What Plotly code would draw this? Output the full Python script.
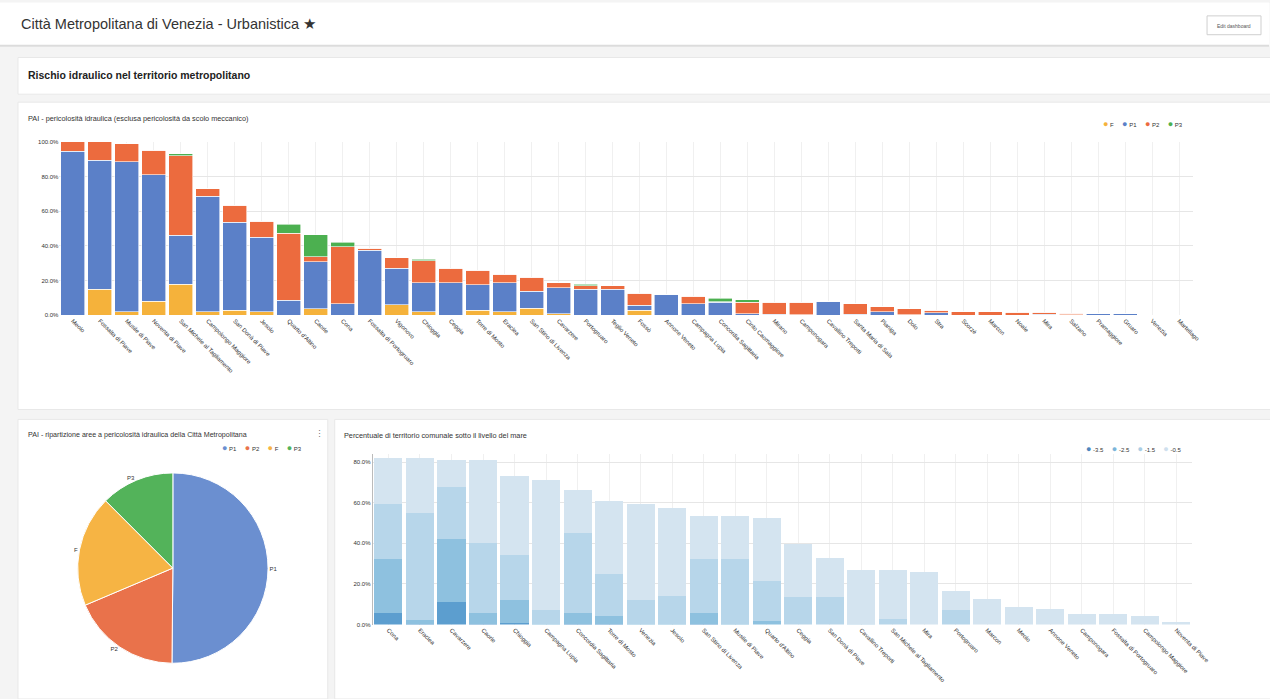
import plotly.graph_objects as go

W, H = 1270, 699          # reference pixel frame used for positioning
FIG_W = 1287              # figure width that renders onto the 1270 px frame

# ---------------- data: PAI hydraulic hazard by municipality (% of territory)
towns_pai = ["Meolo", "Fossalta di Piave", "Musile di Piave", "Noventa di Piave",
             "San Michele al Tagliamento", "Campolongo Maggiore", "San Donà di Piave",
             "Jesolo", "Quarto d'Altino", "Caorle", "Cona", "Fossalta di Portogruaro",
             "Vigonovo", "Chioggia", "Ceggia", "Torre di Mosto", "Eraclea",
             "San Stino di Livenza", "Cavarzere", "Portogruaro", "Teglio Veneto", "Fossò",
             "Annone Veneto", "Campagna Lupia", "Concordia Sagittaria", "Cinto Caomaggiore",
             "Mirano", "Camponogara", "Cavallino Treporti", "Santa Maria di Sala", "Pianiga",
             "Dolo", "Stra", "Scorzè", "Marcon", "Noale", "Mira", "Salzano", "Pramaggiore",
             "Gruaro", "Venezia", "Martellago"]
pai_F = [0, 15, 2, 8, 18, 2, 3, 2, 0, 3.8, 0, 0, 6, 2, 0, 2.9, 1.9, 4.2, 1, 0, 0, 2.9,
         0, 0, 0, 0, 0, 0, 0, 0, 0, 0, 0, 0, 0, 0, 0, 0, 0, 0, 0, 0]
pai_P1 = [94.5, 74.5, 86.5, 73, 28, 66.5, 50.5, 43, 8.6, 27.2, 6.7, 37.5, 21, 16.7, 18.7,
          14.8, 16.8, 9.7, 14.8, 14.9, 14.9, 2.8, 12, 6.7, 7.4, 1, 0.5, 0.3, 8, 0.5, 2,
          0.3, 1.5, 0, 0, 0, 0.7, 0.2, 0.9, 0.9, 0.1, 0]
pai_P2 = [5.5, 10.5, 10.5, 14, 46, 4.3, 10, 9.3, 38.6, 2.7, 32.7, 1, 6.3, 12.7, 8.5, 8.4,
          5.1, 8, 3.1, 2.2, 2.2, 7.1, 0, 4.3, 0.5, 6.6, 7.1, 7.3, 0, 6.2, 2.8, 3.5, 1.5,
          1.9, 1.9, 1.8, 1, 1, 0.1, 0, 0, 0]
pai_P3 = [0, 0, 0, 0, 1.2, 0, 0, 0, 5.2, 12.6, 2.7, 0, 0, 1, 0, 0, 0, 0, 0, 0.8, 0, 0,
          0, 0, 2.0, 1.4, 0, 0, 0, 0, 0, 0, 0, 0, 0, 0, 0, 0, 0, 0, 0, 0]

# ---------------- data: metropolitan split of hazard areas
pie_labels = ["P1", "P2", "F", "P3"]
pie_values = [50.2, 18.5, 18.9, 12.5]

# ---------------- data: share of municipal territory below sea level (stacked bands, %)
towns_sea = ["Cona", "Eraclea", "Cavarzere", "Caorle", "Chioggia", "Campagna Lupia",
             "Concordia Sagittaria", "Torre di Mosto", "Venezia", "Jesolo",
             "San Stino di Livenza", "Musile di Piave", "Quarto d'Altino", "Ceggia",
             "San Donà di Piave", "Cavallino Treporti", "San Michele al Tagliamento", "Mira",
             "Portogruaro", "Marcon", "Meolo", "Annone Veneto", "Camponogara",
             "Fossalta di Portogruaro", "Campolongo Maggiore", "Noventa di Piave"]
sea_m35 = [5.9, 0.5, 11.1, 0.5, 1.0, 0, 0.5, 0.3, 0, 0, 0.5, 0, 0, 0, 0, 0, 0, 0, 0, 0,
           0, 0, 0, 0, 0, 0]
sea_m25 = [26.4, 2.0, 31.0, 5.4, 10.9, 0.5, 5.4, 4.1, 0.5, 0.5, 5.4, 0.5, 2.0, 0, 0, 0,
           0, 0, 0, 0, 0, 0, 0, 0, 0, 0]
sea_m15 = [27.2, 52.6, 25.5, 34.1, 22.4, 6.5, 39.0, 20.5, 11.4, 13.5, 26.4, 31.8, 19.3,
           13.5, 13.5, 0.5, 3.0, 0, 7.0, 0, 0, 0, 0, 0, 0, 0]
sea_m05 = [22.5, 26.9, 13.4, 41.0, 38.7, 64.2, 21.4, 35.7, 47.6, 43.4, 21.2, 21.2, 31.2,
           26.0, 19.2, 26.2, 23.7, 25.7, 9.7, 12.7, 8.6, 7.5, 5.4, 5.4, 4.2, 1.2]

pct_ticks_top = [0, 20, 40, 60, 80, 100]
pct_ticks_bottom = [0, 20, 40, 60, 80]

# ---------------- style
FONT = "Liberation Sans, Arial, sans-serif"
C_F, C_P1, C_P2, C_P3 = "#f5b23b", "#5b80c8", "#ec6b3e", "#4cb050"
PIE_COLORS = ["#6b8fd0", "#e9724b", "#f6b444", "#53b35a"]
SEA_COLORS = {"-3.5": "#5c9ecf", "-2.5": "#8ec1df", "-1.5": "#b7d6ea", "-0.5": "#d4e4f0"}
SEA_LEG = {"-3.5": "#4f86bd", "-2.5": "#7cb5da", "-1.5": "#aacde4", "-0.5": "#cfe0ee"}


def px(x):
    return x / W


def py(y):
    return 1 - y / H


fig = go.Figure()

for name, vals, col in [("F", pai_F, C_F), ("P1", pai_P1, C_P1),
                        ("P2", pai_P2, C_P2), ("P3", pai_P3, C_P3)]:
    fig.add_trace(go.Bar(x=towns_pai, y=vals, name=name, marker_color=col,
                         marker_line=dict(color="white", width=0.6),
                         showlegend=False, xaxis="x", yaxis="y"))

fig.add_trace(go.Pie(labels=pie_labels, values=pie_values, sort=False, direction="clockwise",
                     rotation=0, marker=dict(colors=PIE_COLORS, line=dict(color="white", width=1)),
                     textinfo="label", textposition="outside",
                     textfont=dict(size=6, color="#333", family=FONT),
                     domain=dict(x=[px(77), px(269)], y=[py(666), py(474)]),
                     showlegend=False))

for name, vals in [("-3.5", sea_m35), ("-2.5", sea_m25), ("-1.5", sea_m15), ("-0.5", sea_m05)]:
    fig.add_trace(go.Bar(x=towns_sea, y=vals, name=name, marker_color=SEA_COLORS[name],
                         marker_line=dict(width=0), showlegend=False,
                         xaxis="x2", yaxis="y2"))

shapes = []


def rect(x0, y0, x1, y1, fill="white", line="#e8e8e8"):
    shapes.append(dict(type="rect", xref="paper", yref="paper", x0=px(x0), x1=px(x1),
                       y0=py(y1), y1=py(y0), fillcolor=fill, line=dict(color=line, width=1),
                       layer="below"))


rect(0, 0, 1270, 43, line="white")
rect(18, 55, 1272, 92)
rect(18, 100, 1272, 410)
rect(18, 420, 328, 702)
rect(335, 420, 1272, 702)
rect(1208, 13, 1262, 32, fill="white", line="#cfcfcf")
shapes.append(dict(type="line", xref="paper", yref="paper", x0=0, x1=1, y0=py(43), y1=py(43),
                   line=dict(color="#dcdcdc", width=2), layer="below"))

ann = []


def text(x, y, s, size, color="#333", bold=False, anchor="left"):
    ann.append(dict(xref="paper", yref="paper", x=px(x), y=py(y), xanchor=anchor,
                    yanchor="middle", showarrow=False,
                    text=("<b>%s</b>" % s) if bold else s,
                    font=dict(size=size, color=color, family=FONT)))


def legend_row(x_right, y, items):
    parts = ['<span style="color:%s;font-size:9px">●</span> %s' % (c, n) for n, c in items]
    text(x_right, y, "&nbsp;&nbsp;&nbsp;&nbsp;&nbsp;".join(parts), 6, "#333", anchor="right")


text(19, 21, "Città Metropolitana di Venezia - Urbanistica ★", 14.5, "#333")
text(1235, 23, "Edit dashboard", 5, "#555", anchor="center")
text(26, 73, "Rischio idraulico nel territorio metropolitano", 10.5, "#222", bold=True)
text(26, 116, "PAI - pericolosità idraulica (esclusa pericolosità da scolo meccanico)", 7.3)
text(26, 436, "PAI - ripartizione aree a pericolosità idraulica della Città Metropolitana", 7.1)
text(320, 435, "⋮", 9, "#777", anchor="center")
text(342, 436, "Percentuale di territorio comunale sotto il livello del mare", 7.3)

legend_row(1186, 122, [("F", C_F), ("P1", C_P1), ("P2", C_P2), ("P3", C_P3)])
legend_row(304, 449, list(zip(pie_labels, PIE_COLORS)))
legend_row(1184, 450, [(n, SEA_LEG[n]) for n in ["-3.5", "-2.5", "-1.5", "-0.5"]])

axis_font = dict(size=6, color="#333", family=FONT)

fig.update_layout(
    width=FIG_W, height=H, autosize=False,
    margin=dict(l=0, r=0, t=0, b=0),
    paper_bgcolor="#f4f4f4", plot_bgcolor="rgba(0,0,0,0)",
    font=dict(family=FONT, size=6, color="#333"),
    barmode="stack", bargap=0.11, showlegend=False,
    shapes=shapes, annotations=ann,
    xaxis=dict(domain=[px(59.5), px(1193.5)], anchor="y", type="category",
               tickangle=45, tickfont=axis_font, showgrid=True, gridcolor="#f0f0f0",
               ticks="", showline=False, fixedrange=True),
    yaxis=dict(domain=[py(315), py(140)], anchor="x", range=[0, 100],
               tickvals=pct_ticks_top, ticktext=["%.1f%%" % v for v in pct_ticks_top],
               tickfont=axis_font, gridcolor="#e6e6e6", zeroline=False, fixedrange=True),
    xaxis2=dict(domain=[px(373), px(1193)], anchor="y2", type="category",
                tickangle=45, tickfont=axis_font, showgrid=True, gridcolor="#f0f0f0",
                ticks="", showline=False, fixedrange=True),
    yaxis2=dict(domain=[py(627), py(455)], anchor="x2", range=[0, 83.9],
                tickvals=pct_ticks_bottom, ticktext=["%.1f%%" % v for v in pct_ticks_bottom],
                tickfont=axis_font, gridcolor="#e6e6e6", zeroline=False,
                showline=True, linecolor="#bbbbbb", linewidth=1, fixedrange=True),
)

fig.write_html("out.html", config={"responsive": False, "displayModeBar": False},
               post_script="document.body.style.margin='0';"
                           "document.body.style.overflow='hidden';")
